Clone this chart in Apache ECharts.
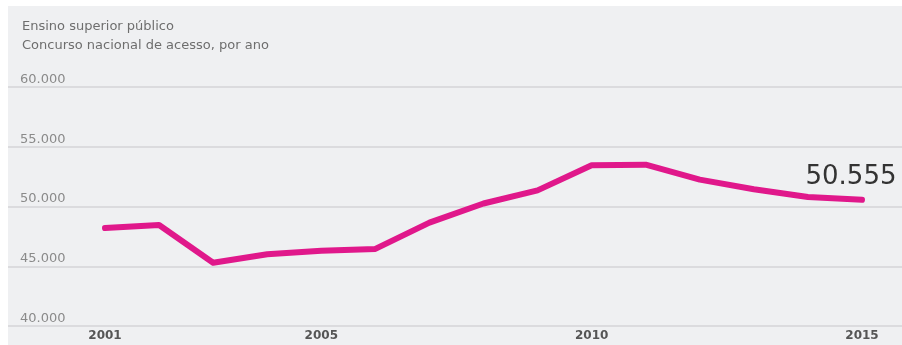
<!DOCTYPE html>
<html>
<head>
<meta charset="utf-8">
<script src="https://cdn.jsdelivr.net/npm/echarts@6/dist/echarts.min.js"></script>
<style>
  html, body { margin: 0; padding: 0; background: #ffffff; }
  #chart { width: 902px; height: 345px; }
</style>
</head>
<body>
<div id="chart"></div>
<script>
// Candidates in the national access contest to public higher education, per year
const years = [2001, 2002, 2003, 2004, 2005, 2006, 2007, 2008, 2009, 2010, 2011, 2012, 2013, 2014, 2015];
const candidates = [48200, 48450, 45300, 46000, 46300, 46450, 48650, 50250, 51350, 53450, 53500, 52250, 51450, 50800, 50555];
const yearLabels = [2001, 2005, 2010, 2015];
const yTicks = [40000, 45000, 50000, 55000, 60000];
const titleLines = ['Ensino superior público', 'Concurso nacional de acesso, por ano'];

const fmt = v => String(v).replace(/\B(?=(\d{3})+(?!\d))/g, '.');

const chart = echarts.init(document.getElementById('chart'), null, { renderer: 'canvas' });
const lastIdx = years.length - 1;

chart.setOption({
  animation: false,
  backgroundColor: '#ffffff',
  graphic: [
    { type: 'rect', left: 8, top: 6, shape: { width: 894, height: 339 }, style: { fill: '#eff0f2' }, z: -10 },
    { type: 'text', left: 22, top: 20, style: { text: titleLines[0], fill: '#6e6e6e', font: '13px "DejaVu Sans"' } },
    { type: 'text', left: 22, top: 39, style: { text: titleLines[1], fill: '#6e6e6e', font: '13px "DejaVu Sans"' } }
  ],
  grid: { left: 8, right: 0, top: 87, bottom: 19, containLabel: false },
  xAxis: {
    type: 'value',
    min: 1999.206,
    max: 2015.74,
    axisLine: { show: false },
    axisTick: { show: false },
    splitLine: { show: false },
    axisLabel: {
      customValues: yearLabels,
      formatter: v => String(v),
      color: '#555555',
      fontFamily: 'DejaVu Sans',
      fontWeight: 'bold',
      fontSize: 12,
      margin: 4
    }
  },
  yAxis: {
    type: 'value',
    min: yTicks[0],
    max: yTicks[yTicks.length - 1],
    interval: yTicks[1] - yTicks[0],
    axisLine: { show: false },
    axisTick: { show: false },
    splitLine: { show: true, lineStyle: { color: '#d4d5d7', width: 1.5 } },
    axisLabel: {
      inside: true,
      margin: 12,
      formatter: v => fmt(v),
      color: '#8a8a8a',
      fontFamily: 'DejaVu Sans',
      fontSize: 13,
      verticalAlign: 'bottom',
      padding: [0, 0, 1, 0]
    }
  },
  series: [{
    type: 'line',
    data: years.map((y, i) => [y, candidates[i]]),
    showSymbol: false,
    symbol: 'none',
    lineStyle: { color: '#e0188b', width: 6, cap: 'round', join: 'round' },
    markPoint: {
      symbol: 'circle',
      symbolSize: 0,
      data: [{
        coord: [years[lastIdx], candidates[lastIdx]],
        label: {
          show: true,
          formatter: fmt(candidates[lastIdx]),
          position: 'top',
          distance: 10,
          offset: [-11, 0],
          color: '#333333',
          fontFamily: 'DejaVu Sans',
          fontSize: 26
        }
      }]
    }
  }]
});
</script>
</body>
</html>
